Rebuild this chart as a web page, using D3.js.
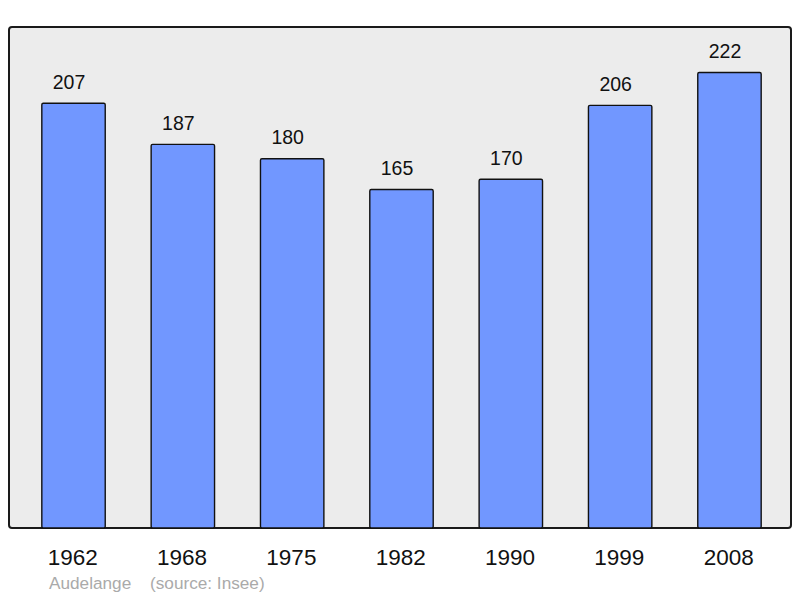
<!DOCTYPE html>
<html>
<head>
<meta charset="utf-8">
<script src="https://cdn.jsdelivr.net/npm/d3@7"></script>
<style>
  body { margin: 0; background: #ffffff; }
  text { font-family: "Liberation Sans", Arial, sans-serif; }
</style>
</head>
<body>
<div class="chart"></div>
<script>
// population by census year
const years = ["1962", "1968", "1975", "1982", "1990", "1999", "2008"];
const population = [207, 187, 180, 165, 170, 206, 222];
const townName = "Audelange";
const sourceNote = "(source: Insee)";

const width = 800, height = 598;
const frame = {left: 9, top: 27, right: 791, bottom: 528};

const svg = d3.select(".chart").append("svg")
    .attr("width", width)
    .attr("height", height);

// grey plot box
svg.append("rect")
    .attr("x", frame.left)
    .attr("y", frame.top)
    .attr("width", frame.right - frame.left)
    .attr("height", frame.bottom - frame.top)
    .attr("rx", 3)
    .attr("fill", "#ececec")
    .attr("stroke", "#1a1a1a")
    .attr("stroke-width", 2);

const x = d3.scaleBand()
    .domain(years)
    .range([12.3, 790.7])
    .paddingInner(0.42)
    .paddingOuter(0.27);

const y = d3.scaleLinear()
    .domain([0, d3.max(population) * 1.1])
    .range([frame.bottom, frame.top]);

const rows = years.map((yr, i) => ({year: yr, value: population[i]}));

//bars
svg.selectAll("rect.bar")
    .data(rows)
    .enter().append("rect")
    .attr("class", "bar")
    .attr("x", d => x(d.year))
    .attr("y", d => y(d.value))
    .attr("width", x.bandwidth())
    .attr("height", d => y(0) - y(d.value))
    .attr("rx", 1.5)
    .attr("fill", "#7197ff")
    .attr("stroke", "#111")
    .attr("stroke-width", 1.4);

//value labels above bars (sit a little left of centre, as in the original)
svg.selectAll("text.value")
    .data(rows)
    .enter().append("text")
    .attr("class", "value")
    .attr("x", d => x(d.year) + x.bandwidth() / 2 - 4.5)
    .attr("y", d => y(d.value) - 14.5)
    .attr("text-anchor", "middle")
    .attr("font-size", 19.5)
    .attr("fill", "#111")
    .text(d => d.value);

//year labels (axis without line/ticks)
const xAxis = d3.axisBottom(x).tickSize(0).tickPadding(0);
const axisG = svg.append("g")
    .attr("transform", `translate(0, ${frame.bottom})`)
    .call(xAxis);
axisG.select(".domain").remove();
axisG.selectAll("text")
    .attr("dy", null)
    .attr("x", -0.8)
    .attr("y", 37)
    .attr("font-size", 22.5)
    .attr("font-family", "'Liberation Sans', Arial, sans-serif")
    .attr("fill", "#111");

// footer
svg.append("text")
    .attr("x", 49)
    .attr("y", 589)
    .attr("font-size", 17.2)
    .attr("fill", "#aaaaaa")
    .text(townName);

svg.append("text")
    .attr("x", 150)
    .attr("y", 589)
    .attr("font-size", 17.2)
    .attr("fill", "#aaaaaa")
    .text(sourceNote);
</script>
</body>
</html>
